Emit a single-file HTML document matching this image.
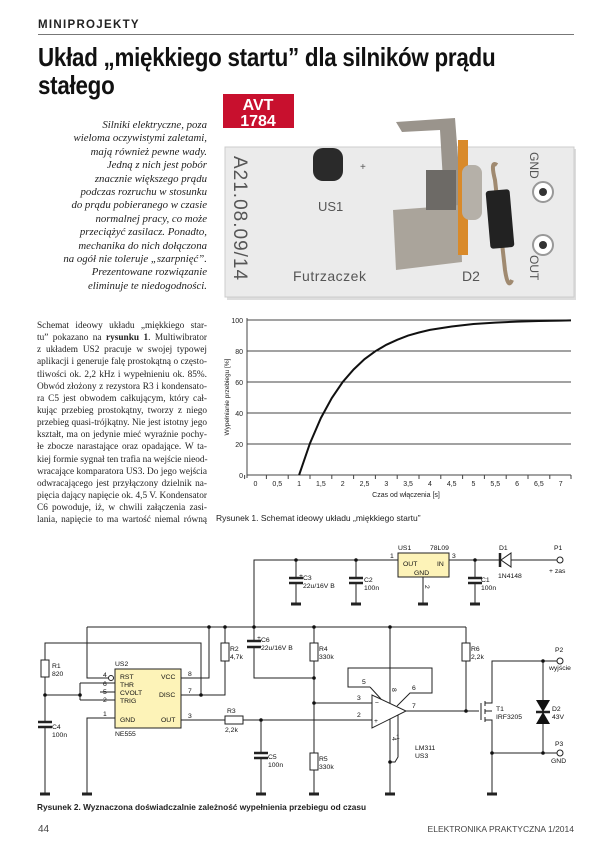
<!DOCTYPE html>
<html><head><meta charset="utf-8"><style>
body{margin:0;background:#fff;}
#pg{position:relative;width:615px;height:850px;overflow:hidden;background:#fff;font-family:"Liberation Sans",sans-serif;color:#111;}
.a{position:absolute;white-space:nowrap;}
.intro div{text-align:right;height:13.4px;line-height:13.4px;}
.body div{text-align:justify;text-align-last:justify;height:12.15px;line-height:12.15px;}
</style></head><body><div id="pg">
<div class="a" style="left:38px;top:19px;font-size:11.5px;font-weight:bold;letter-spacing:1.3px;color:#222">MINIPROJEKTY</div>
<div class="a" style="left:38px;top:34px;width:536px;height:1px;background:#777"></div>
<div class="a" style="left:38px;top:43px;font-size:26px;font-weight:bold;line-height:28px;transform:scaleX(0.86);transform-origin:0 0;letter-spacing:-0.3px">Układ „miękkiego startu” dla silników prądu<br>stałego</div>

<div class="a intro" style="left:40px;top:119px;width:167px;font-family:'Liberation Serif',serif;font-style:italic;font-size:10.8px;color:#222">
<div>Silniki elektryczne, poza</div><div>wieloma oczywistymi zaletami,</div><div>mają również pewne wady.</div><div>Jedną z nich jest pobór</div><div>znacznie większego prądu</div><div>podczas rozruchu w stosunku</div><div>do prądu pobieranego w czasie</div><div>normalnej pracy, co może</div><div>przeciążyć zasilacz. Ponadto,</div><div>mechanika do nich dołączona</div><div>na ogół nie toleruje „szarpnięć”.</div><div>Prezentowane rozwiązanie</div><div>eliminuje te niedogodności.</div>
</div>

<div class="a body" style="left:37px;top:320px;width:170px;font-family:'Liberation Serif',serif;font-size:9.3px;color:#222">
<div>Schemat ideowy układu „miękkiego star-</div><div>tu” pokazano na <b>rysunku 1</b>. Multiwibrator</div><div>z układem US2 pracuje w swojej typowej</div><div>aplikacji i generuje falę prostokątną o często-</div><div>tliwości ok. 2,2 kHz i wypełnieniu ok. 85%.</div><div>Obwód złożony z rezystora R3 i kondensato-</div><div>ra C5 jest obwodem całkującym, który cał-</div><div>kując przebieg prostokątny, tworzy z niego</div><div>przebieg quasi-trójkątny. Nie jest istotny jego</div><div>kształt, ma on jedynie mieć wyraźnie pochy-</div><div>łe zbocze narastające oraz opadające. W ta-</div><div>kiej formie sygnał ten trafia na wejście nieod-</div><div>wracające komparatora US3. Do jego wejścia</div><div>odwracającego jest przyłączony dzielnik na-</div><div>pięcia dający napięcie ok. 4,5 V. Kondensator</div><div>C6 powoduje, iż, w chwili załączenia zasi-</div><div>lania, napięcie to ma wartość niemal równą</div>
</div>

<svg class="a" style="left:0;top:0" width="615" height="850" viewBox="0 0 615 850" font-family="Liberation Sans, sans-serif">
<!-- photo -->
<rect x="227" y="149" width="349" height="151" fill="#bbb" opacity="0.5"/>
<rect x="225" y="147" width="349" height="150" fill="#ebebeb" stroke="#ccc"/>
<text transform="translate(234,156) rotate(90)" font-size="19" fill="#555" letter-spacing="1">A21.08.09/14</text>
<text x="318" y="211" font-size="13" fill="#555">US1</text>
<text x="293" y="281" font-size="14" fill="#555" letter-spacing="0.5">Futrzaczek</text>
<text x="462" y="281" font-size="14" fill="#555">D2</text>
<text transform="translate(530,152) rotate(90)" font-size="12" fill="#555">GND</text>
<text transform="translate(530,255) rotate(90)" font-size="12" fill="#555">OUT</text>
<circle cx="543" cy="192" r="10" fill="#fff" stroke="#999" stroke-width="2"/><circle cx="543" cy="192" r="4" fill="#333"/>
<circle cx="543" cy="245" r="10" fill="#fff" stroke="#999" stroke-width="2"/><circle cx="543" cy="245" r="4" fill="#333"/>
<rect x="313" y="148" width="30" height="33" rx="10" fill="#2a2a2a"/>
<text x="360" y="170" font-size="10" fill="#555">+</text>
<path d="M396 122 L455 118 L462 210 L445 215 L440 130 L402 132 Z" fill="#9a948c"/>
<path d="M393 210 L460 205 L462 262 L396 270 Z" fill="#aaa49b"/>
<rect x="426" y="170" width="30" height="40" fill="#6d6a66"/>
<rect x="458" y="140" width="10" height="115" fill="#d98a2a"/>
<rect x="462" y="165" width="20" height="55" rx="8" fill="#b5b0a8"/>
<path d="M497 165 Q490 160 495 180 L505 270 Q508 290 512 280" stroke="#a08a70" stroke-width="4" fill="none"/>
<rect x="488" y="190" width="24" height="58" rx="3" fill="#222" transform="rotate(-5 500 219)"/>
<rect x="223" y="94" width="71" height="34" fill="#c8102e"/>
<text x="258" y="110" font-size="16" font-weight="bold" fill="#fff" text-anchor="middle">AVT</text>
<text x="258" y="126" font-size="16" font-weight="bold" fill="#fff" text-anchor="middle">1784</text>

<!-- chart -->
<g stroke="#444" stroke-width="1">
<line x1="247" y1="320" x2="571" y2="320"/><line x1="247" y1="351" x2="571" y2="351"/><line x1="247" y1="382" x2="571" y2="382"/><line x1="247" y1="413" x2="571" y2="413"/><line x1="247" y1="444" x2="571" y2="444"/><line x1="247" y1="475" x2="571" y2="475"/>
<line x1="247" y1="318" x2="247" y2="478"/>
</g>
<g stroke="#444" stroke-width="1">
<line x1="244.6" y1="475" x2="244.6" y2="479"/><line x1="266.4" y1="475" x2="266.4" y2="479"/><line x1="288.2" y1="475" x2="288.2" y2="479"/><line x1="310" y1="475" x2="310" y2="479"/><line x1="331.8" y1="475" x2="331.8" y2="479"/><line x1="353.6" y1="475" x2="353.6" y2="479"/><line x1="375.4" y1="475" x2="375.4" y2="479"/><line x1="397.2" y1="475" x2="397.2" y2="479"/><line x1="419" y1="475" x2="419" y2="479"/><line x1="440.8" y1="475" x2="440.8" y2="479"/><line x1="462.6" y1="475" x2="462.6" y2="479"/><line x1="484.4" y1="475" x2="484.4" y2="479"/><line x1="506.2" y1="475" x2="506.2" y2="479"/><line x1="528" y1="475" x2="528" y2="479"/><line x1="549.8" y1="475" x2="549.8" y2="479"/><line x1="571" y1="475" x2="571" y2="479"/>
</g>
<g font-size="7" fill="#222" text-anchor="end">
<text x="243" y="323">100</text><text x="243" y="354">80</text><text x="243" y="385">60</text><text x="243" y="416">40</text><text x="243" y="447">20</text><text x="243" y="478">0</text>
</g>
<g font-size="7" fill="#222" text-anchor="middle">
<text x="255.5" y="486">0</text><text x="277.3" y="486">0,5</text><text x="299.1" y="486">1</text><text x="320.9" y="486">1,5</text><text x="342.7" y="486">2</text><text x="364.5" y="486">2,5</text><text x="386.3" y="486">3</text><text x="408.1" y="486">3,5</text><text x="429.9" y="486">4</text><text x="451.7" y="486">4,5</text><text x="473.5" y="486">5</text><text x="495.3" y="486">5,5</text><text x="517.1" y="486">6</text><text x="538.9" y="486">6,5</text><text x="560.7" y="486">7</text>
<text x="406" y="497">Czas od włączenia [s]</text>
</g>
<text transform="translate(229,397) rotate(-90)" font-size="6.5" fill="#222" text-anchor="middle">Wypełnianie przebiegu [%]</text>
<polyline fill="none" stroke="#111" stroke-width="2" points="299.1,475 310,443.2 320.9,418 331.8,398 342.7,382 353.6,369.5 364.5,359.2 375.4,351.2 386.3,344.8 397.2,339.8 408.1,335.6 419,332.5 429.9,329.9 451.7,326.5 473.5,324 495.3,322.6 517.1,321.6 538.9,321 560.7,320.6 571,320.4"/>
<text x="216" y="521" font-size="8.5" fill="#222">Rysunek 1. Schemat ideowy układu „miękkiego startu”</text>

<!-- schematic -->
<g stroke="#222" stroke-width="1" fill="none">
<polyline points="254,627 254,560 398,560"/>
<line x1="296" y1="560" x2="296" y2="578"/><line x1="296" y1="583" x2="296" y2="603"/>
<line x1="356" y1="560" x2="356" y2="578"/><line x1="356" y1="583" x2="356" y2="603"/>
<line x1="423" y1="577" x2="423" y2="603"/>
<line x1="449" y1="560" x2="500" y2="560"/><line x1="511" y1="560" x2="557" y2="560"/>
<line x1="475" y1="560" x2="475" y2="578"/><line x1="475" y1="583" x2="475" y2="603"/>
<line x1="87" y1="627" x2="466" y2="627"/>
<polyline points="87,627 87,678 108,678"/>
<polyline points="45,660 45,643 201,643 201,695"/>
<line x1="45" y1="677" x2="45" y2="722"/><line x1="45" y1="727" x2="45" y2="793"/>
<line x1="45" y1="695" x2="80" y2="695"/>
<polyline points="80,683 80,700"/>
<line x1="80" y1="683" x2="115" y2="683"/><line x1="100" y1="692" x2="115" y2="692"/><line x1="80" y1="700" x2="115" y2="700"/>
<polyline points="115,718 87,718 87,793"/>
<polyline points="181,678 209,678 209,627"/>
<polyline points="181,695 225,695 225,661"/><line x1="225" y1="627" x2="225" y2="643"/>
<line x1="181" y1="720" x2="225" y2="720"/><line x1="243" y1="720" x2="372" y2="720"/>
<line x1="261" y1="720" x2="261" y2="753"/><line x1="261" y1="758" x2="261" y2="793"/>
<line x1="254" y1="627" x2="254" y2="641"/><polyline points="254,647 254,678 314,678"/>
<line x1="314" y1="627" x2="314" y2="643"/><line x1="314" y1="661" x2="314" y2="753"/><line x1="314" y1="770" x2="314" y2="793"/>
<line x1="314" y1="703" x2="372" y2="703"/>
<line x1="390" y1="627" x2="390" y2="703"/>
<line x1="390" y1="719" x2="390" y2="793"/>
<polyline points="398,715 398,757 395,762 390,762"/>
<polyline points="370,687 348,687 348,668 432,668 432,693 410,693 397,706"/>
<line x1="370" y1="687" x2="381" y2="699"/>
<line x1="406" y1="711" x2="479" y2="711"/>
<line x1="466" y1="627" x2="466" y2="643"/><line x1="466" y1="661" x2="466" y2="711"/>
<line x1="481" y1="703" x2="481" y2="720"/>
<line x1="485" y1="701" x2="485" y2="706"/><line x1="485" y1="709" x2="485" y2="714"/><line x1="485" y1="717" x2="485" y2="722"/>
<polyline points="485,703 492,703 492,661 557,661"/>
<polyline points="485,720 492,720 492,793"/>
<line x1="485" y1="711" x2="492" y2="711"/>
<line x1="492" y1="753" x2="557" y2="753"/>
<line x1="543" y1="661" x2="543" y2="700"/><line x1="543" y1="724" x2="543" y2="753"/>
</g>
<g stroke="#222" stroke-width="1" fill="#fff">
<rect x="398" y="553" width="51" height="24" fill="#fdf3b8"/>
<rect x="115" y="669" width="66" height="59" fill="#fdf3b8"/>
<rect x="41" y="660" width="8" height="17"/>
<rect x="221" y="643" width="8" height="18"/>
<rect x="310" y="643" width="8" height="18"/>
<rect x="310" y="753" width="8" height="17"/>
<rect x="462" y="643" width="8" height="18"/>
<rect x="225" y="716" width="18" height="8"/>
<polygon points="372,695 372,728 406,711"/>
<circle cx="111" cy="678" r="2.5"/>
<polygon points="511,553 511,567 501,560"/>
<circle cx="560" cy="560" r="3"/><circle cx="560" cy="661" r="3"/><circle cx="560" cy="753" r="3"/>
</g>
<g stroke="#222" stroke-width="2.5">
<line x1="289" y1="578" x2="303" y2="578"/><line x1="289" y1="583" x2="303" y2="583"/>
<line x1="349" y1="578" x2="363" y2="578"/><line x1="349" y1="583" x2="363" y2="583"/>
<line x1="468" y1="578" x2="482" y2="578"/><line x1="468" y1="583" x2="482" y2="583"/>
<line x1="38" y1="722" x2="52" y2="722"/><line x1="38" y1="727" x2="52" y2="727"/>
<line x1="254" y1="753" x2="268" y2="753"/><line x1="254" y1="758" x2="268" y2="758"/>
<line x1="247" y1="641" x2="261" y2="641"/><line x1="247" y1="647" x2="261" y2="647"/>
<line x1="500" y1="553" x2="500" y2="567"/>
<line x1="536" y1="712" x2="550" y2="712"/>
</g>
<g stroke="#222" stroke-width="3">
<line x1="291" y1="604" x2="301" y2="604"/><line x1="351" y1="604" x2="361" y2="604"/><line x1="418" y1="604" x2="428" y2="604"/><line x1="470" y1="604" x2="480" y2="604"/>
<line x1="40" y1="794" x2="50" y2="794"/><line x1="82" y1="794" x2="92" y2="794"/><line x1="256" y1="794" x2="266" y2="794"/><line x1="309" y1="794" x2="319" y2="794"/><line x1="385" y1="794" x2="395" y2="794"/><line x1="487" y1="794" x2="497" y2="794"/>
</g>
<polygon points="536,700 550,700 543,712" fill="#111"/><polygon points="536,724 550,724 543,712" fill="#111"/>
<g fill="#111">
<circle cx="296" cy="560" r="1.8"/><circle cx="356" cy="560" r="1.8"/><circle cx="475" cy="560" r="1.8"/>
<circle cx="209" cy="627" r="1.8"/><circle cx="225" cy="627" r="1.8"/><circle cx="254" cy="627" r="1.8"/><circle cx="314" cy="627" r="1.8"/><circle cx="390" cy="627" r="1.8"/>
<circle cx="201" cy="695" r="1.8"/><circle cx="45" cy="695" r="1.8"/><circle cx="80" cy="695" r="1.8"/>
<circle cx="261" cy="720" r="1.8"/><circle cx="314" cy="678" r="1.8"/><circle cx="314" cy="703" r="1.8"/>
<circle cx="390" cy="762" r="1.8"/><circle cx="466" cy="711" r="1.8"/>
<circle cx="543" cy="661" r="1.8"/><circle cx="543" cy="753" r="1.8"/><circle cx="492" cy="753" r="1.8"/>
</g>
<g font-size="6.8" fill="#111">
<text x="398" y="550">US1</text><text x="430" y="550">78L09</text>
<text x="403" y="566">OUT</text><text x="437" y="566">IN</text><text x="414" y="575">GND</text>
<text x="390" y="558">1</text><text x="452" y="558">3</text><text transform="translate(425,585) rotate(90)">2</text>
<text x="299" y="578">+</text><text x="303" y="580">C3</text><text x="303" y="588">22u/16V B</text>
<text x="364" y="582">C2</text><text x="364" y="590">100n</text>
<text x="481" y="582">C1</text><text x="481" y="590">100n</text>
<text x="499" y="550">D1</text><text x="498" y="578">1N4148</text>
<text x="554" y="550">P1</text><text x="549" y="573">+ zas</text>
<text x="52" y="668">R1</text><text x="52" y="676">820</text>
<text x="52" y="729">C4</text><text x="52" y="737">100n</text>
<text x="115" y="666">US2</text><text x="115" y="736">NE555</text>
<text x="120" y="679">RST</text><text x="120" y="687">THR</text><text x="120" y="695">CVOLT</text><text x="120" y="703">TRIG</text><text x="120" y="722">GND</text>
<text x="161" y="679">VCC</text><text x="159" y="697">DISC</text><text x="161" y="722">OUT</text>
<text x="103" y="677">4</text><text x="103" y="686">6</text><text x="103" y="694">5</text><text x="103" y="702">2</text><text x="103" y="716">1</text>
<text x="188" y="676">8</text><text x="188" y="693">7</text><text x="188" y="718">3</text>
<text x="230" y="651">R2</text><text x="230" y="659">4,7k</text>
<text x="257" y="640">+</text><text x="261" y="642">C6</text><text x="261" y="650">22u/16V B</text>
<text x="319" y="651">R4</text><text x="319" y="659">330k</text>
<text x="319" y="761">R5</text><text x="319" y="769">330k</text>
<text x="227" y="713">R3</text><text x="225" y="732">2,2k</text>
<text x="268" y="759">C5</text><text x="268" y="767">100n</text>
<text x="362" y="684">5</text><text x="357" y="700">3</text><text x="357" y="717">2</text><text x="412" y="690">6</text><text x="412" y="708">7</text>
<text transform="translate(392,688) rotate(90)">8</text><text transform="translate(392,737) rotate(90)">4</text><text x="396" y="739">1</text>
<text x="375" y="705">−</text><text x="374" y="723">+</text>
<text x="415" y="750">LM311</text><text x="415" y="758">US3</text>
<text x="471" y="651">R6</text><text x="471" y="659">2,2k</text>
<text x="496" y="711">T1</text><text x="496" y="719">IRF3205</text>
<text x="552" y="711">D2</text><text x="552" y="719">43V</text>
<text x="555" y="652">P2</text><text x="549" y="670">wyjście</text>
<text x="555" y="746">P3</text><text x="551" y="763">GND</text>
</g>
<text x="37" y="810" font-size="8.3" fill="#222" font-weight="bold">Rysunek 2. Wyznaczona doświadczalnie zależność wypełnienia przebiegu od czasu</text>
<text x="38" y="832" font-size="10" fill="#444">44</text>
<text x="574" y="832" font-size="8.5" fill="#444" text-anchor="end">ELEKTRONIKA PRAKTYCZNA 1/2014</text>
</svg>
</div></body></html>
